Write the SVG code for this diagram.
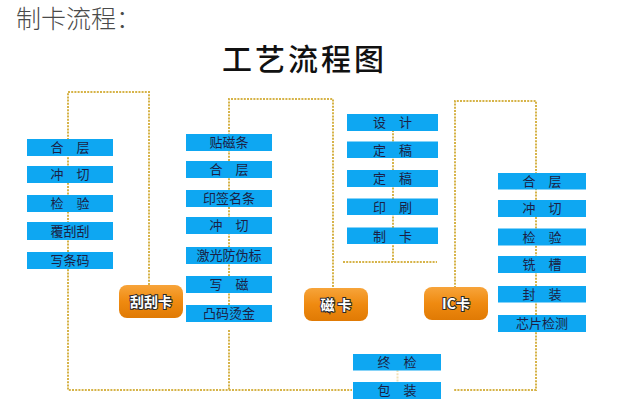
<svg xmlns="http://www.w3.org/2000/svg" width="621" height="412" viewBox="0 0 621 412">
<style>
.bg{fill:#ffffff}
.dot{fill:none;stroke:#d6b348;stroke-width:2;stroke-dasharray:2 1.2}
.faint{fill:none;stroke:#f2e2b8;stroke-width:2;stroke-dasharray:2 1.2}
.box{fill:#0ea7f2}
.bt{font-family:"Noto Sans CJK SC","Noto Sans",sans-serif;font-size:13px;fill:#1b1f45;text-anchor:middle}
.btn{fill:url(#og)}
.btt{font-family:"Noto Sans CJK SC","Noto Sans",sans-serif;font-size:14px;font-weight:bold;fill:#ffffff;stroke:#2a2a2a;stroke-width:2;paint-order:stroke;text-anchor:middle}
.h1{font-family:"Noto Sans CJK SC","Noto Sans",sans-serif;font-size:25px;font-weight:300;fill:#4a4a4a}
.h2{font-family:"Noto Sans CJK SC","Noto Sans",sans-serif;font-size:30px;font-weight:500;fill:#111111;letter-spacing:3px}
</style>
<defs>
<linearGradient id="og" x1="0" y1="0" x2="0" y2="1">
<stop offset="0" stop-color="#f7a43a"/>
<stop offset="0.5" stop-color="#ef8a10"/>
<stop offset="1" stop-color="#e07a04"/>
</linearGradient>
</defs>
<rect class="bg" x="0" y="0" width="621" height="412"/>
<text class="h1" x="16" y="28">制卡流程：</text>
<text class="h2" x="222" y="70">工艺流程图</text>
<g id="connectors">
<polyline class="dot" points="149,285 149,92 68,92 68,390 229,390 352,390"/>
<polyline class="dot" points="229,330 229,390"/>
<polyline class="dot" points="229,305 229,99 333,99 333,288"/>
<polyline class="dot" points="393,114 393,262"/>
<polyline class="dot" points="343,262 437,262"/>
<polyline class="dot" points="455,288 455,101 536,101 536,390 454,390"/>
<polyline class="faint" points="397.5,370 397.5,382"/>
</g>
<g id="col1">
<g id="n-hc1"><rect class="box" x="27" y="139" width="86" height="17"/><text class="bt" x="70" y="152">合　层</text></g>
<g id="n-cq1"><rect class="box" x="27" y="166" width="86" height="17"/><text class="bt" x="70" y="179">冲　切</text></g>
<g id="n-jy1"><rect class="box" x="27" y="195" width="86" height="17"/><text class="bt" x="70" y="208">检　验</text></g>
<g id="n-fgg"><rect class="box" x="27" y="222" width="86" height="18"/><text class="bt" x="70" y="235.5">覆刮刮</text></g>
<g id="n-xtm"><rect class="box" x="27" y="252" width="86" height="17"/><text class="bt" x="70" y="265">写条码</text></g>
</g>
<g id="col2">
<g id="n-tct"><rect class="box" x="186" y="134" width="86" height="17"/><text class="bt" x="229" y="147">贴磁条</text></g>
<g id="n-hc2"><rect class="box" x="186" y="161" width="86" height="17"/><text class="bt" x="229" y="174">合　层</text></g>
<g id="n-yqmt"><rect class="box" x="186" y="190" width="86" height="17"/><text class="bt" x="229" y="203">印签名条</text></g>
<g id="n-cq2"><rect class="box" x="186" y="217" width="86" height="17"/><text class="bt" x="229" y="230">冲　切</text></g>
<g id="n-jgfwb"><rect class="box" x="186" y="247" width="86" height="17"/><text class="bt" x="229" y="260">激光防伪标</text></g>
<g id="n-xc"><rect class="box" x="186" y="276" width="86" height="17"/><text class="bt" x="229" y="289">写　磁</text></g>
<g id="n-tmtj"><rect class="box" x="186" y="305" width="86" height="17"/><text class="bt" x="229" y="318">凸码烫金</text></g>
</g>
<g id="col3">
<g id="n-sj"><rect class="box" x="347" y="114" width="91" height="17"/><text class="bt" x="392.5" y="127">设　计</text></g>
<g id="n-dg1"><rect class="box" x="347" y="141.5" width="91" height="16.5"/><text class="bt" x="392.5" y="154.5">定　稿</text></g>
<g id="n-dg2"><rect class="box" x="347" y="170" width="91" height="17"/><text class="bt" x="392.5" y="183">定　稿</text></g>
<g id="n-ys"><rect class="box" x="347" y="198.5" width="91" height="16.5"/><text class="bt" x="392.5" y="211.5">印　刷</text></g>
<g id="n-zk"><rect class="box" x="347" y="227.5" width="91" height="16.5"/><text class="bt" x="392.5" y="240.5">制　卡</text></g>
</g>
<g id="col4">
<g id="n-hc4"><rect class="box" x="498" y="173" width="88" height="16.5"/><text class="bt" x="542" y="186">合　层</text></g>
<g id="n-cq4"><rect class="box" x="498" y="200" width="88" height="17"/><text class="bt" x="542" y="213">冲　切</text></g>
<g id="n-jy4"><rect class="box" x="498" y="228.5" width="88" height="17"/><text class="bt" x="542" y="241.5">检　验</text></g>
<g id="n-xcao"><rect class="box" x="498" y="256" width="88" height="17"/><text class="bt" x="542" y="269">铣　槽</text></g>
<g id="n-fz"><rect class="box" x="498" y="286" width="88" height="16.5"/><text class="bt" x="542" y="299">封　装</text></g>
<g id="n-xpjc"><rect class="box" x="498" y="315" width="88" height="17"/><text class="bt" x="542" y="328">芯片检测</text></g>
</g>
<g id="final">
<g id="n-zj"><rect class="box" x="353" y="354" width="88" height="16.5"/><text class="bt" x="397" y="367">终　检</text></g>
<g id="n-bz"><rect class="box" x="353" y="382" width="88" height="17"/><text class="bt" x="397" y="395">包　装</text></g>
</g>
<g id="n-ggk"><rect class="btn" x="119" y="285" width="64" height="33" rx="8"/><text class="btt" x="151" y="306.5">刮刮卡</text></g>
<g id="n-ck"><rect class="btn" x="304" y="288" width="64" height="33" rx="8"/><text class="btt" x="336" y="309.5">磁 卡</text></g>
<g id="n-ic"><rect class="btn" x="424" y="287" width="64" height="33" rx="8"/><text class="btt" x="456" y="308.5">IC卡</text></g>
</svg>
